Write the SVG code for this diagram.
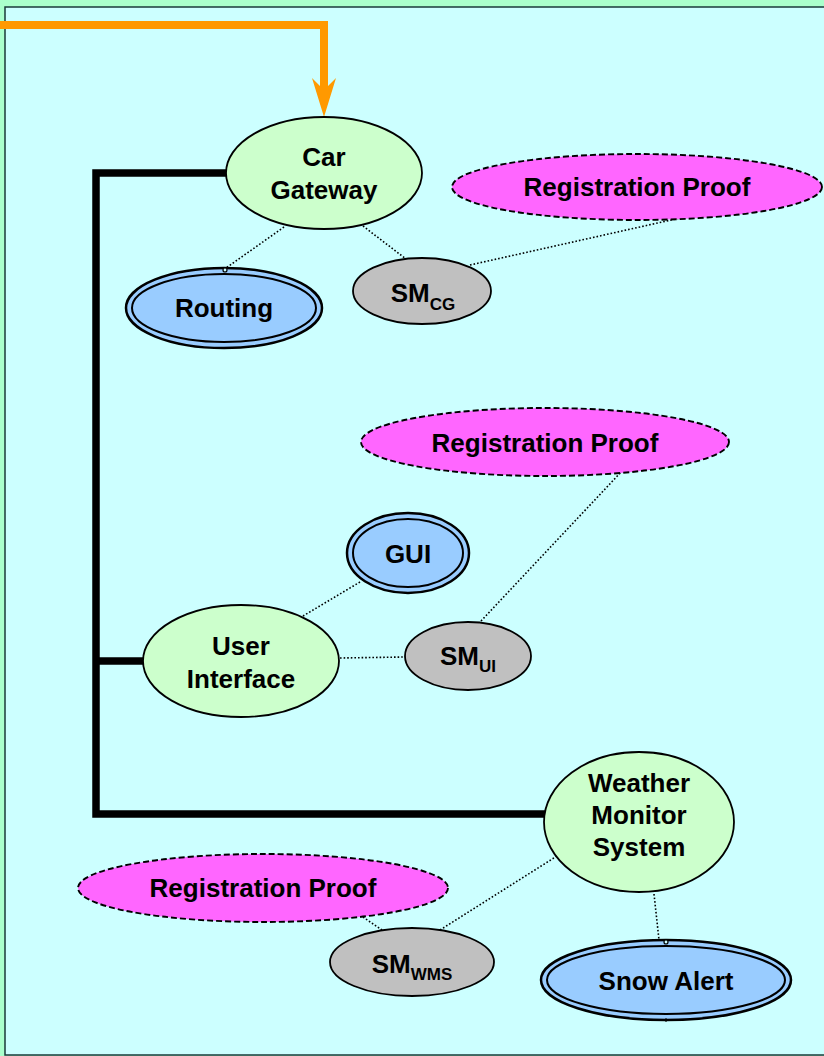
<svg xmlns="http://www.w3.org/2000/svg" width="824" height="1056" viewBox="0 0 824 1056">
  <style>
    text { font-family: "Liberation Sans", Arial, sans-serif; font-weight: bold; font-size: 26px; fill: #000; }
    .sub { font-size: 17px; }
    .comp { fill: #ccffcc; stroke: #000; stroke-width: 1.8; }
    .svc { fill: #99ccff; stroke: #000; stroke-width: 2.5; }
    .svc-in { fill: none; stroke: #000; stroke-width: 2; }
    .sm { fill: #c0c0c0; stroke: #000; stroke-width: 1.8; }
    .proof { fill: #ff66ff; stroke: #000; stroke-width: 1.9; stroke-dasharray: 6 3; }
    .dot { fill: none; stroke: #000; stroke-width: 1.6; stroke-dasharray: 1.6 2; }
    .bus { fill: none; stroke: #000; stroke-width: 7.5; stroke-linejoin: miter; }
    .pin { fill: #ccffff; stroke: #000; stroke-width: 1.2; }
  </style>

  <!-- page background and frame -->
  <rect x="0" y="0" width="824" height="1056" fill="#aaffcc"/>
  <rect x="5" y="7" width="830" height="1048" fill="#ccffff" stroke="#1a3a3a" stroke-width="1.5"/>

  <!-- connectors -->
  <g id="connectors">
    <!-- incoming request -->
    <polyline points="0,25 324,25 324,92" fill="none" stroke="#ff9900" stroke-width="8" stroke-linejoin="miter"/>
    <path d="M324,117 L312,78 L324,90 L336,78 Z" fill="#ff9900"/>
    <!-- bus linking components -->
    <polyline class="bus" points="227,173 96,173 96,814 545,814"/>
    <line class="bus" x1="96" y1="661" x2="144" y2="661"/>
    <!-- dotted associations -->
    <line class="dot" x1="284" y1="227" x2="226" y2="268"/>
    <line class="dot" x1="363" y1="226" x2="406" y2="259"/>
    <line class="dot" x1="470" y1="265" x2="680" y2="218"/>
    <line class="dot" x1="360" y1="582" x2="303" y2="616"/>
    <line class="dot" x1="340" y1="658" x2="405" y2="657"/>
    <line class="dot" x1="481" y1="621" x2="622" y2="471"/>
    <line class="dot" x1="360" y1="915" x2="382" y2="930"/>
    <line class="dot" x1="440" y1="930" x2="557" y2="856"/>
    <line class="dot" x1="654" y1="894" x2="659" y2="940"/>
  </g>

  <g id="car-gateway">
    <ellipse class="comp" cx="324" cy="173" rx="98" ry="56"/>
    <text x="324" y="166" text-anchor="middle">Car</text>
    <text x="324" y="199" text-anchor="middle">Gateway</text>
  </g>

  <g id="routing">
    <ellipse class="svc" cx="224" cy="308" rx="98" ry="40"/>
    <ellipse class="svc-in" cx="224" cy="308" rx="92" ry="34"/>
    <circle class="pin" cx="225" cy="270" r="2"/>
    <text x="224" y="317" text-anchor="middle">Routing</text>
  </g>

  <g id="sm-cg">
    <ellipse class="sm" cx="422" cy="291" rx="69" ry="33"/>
    <text x="423" y="302" text-anchor="middle">SM<tspan class="sub" dy="8">CG</tspan></text>
  </g>

  <g id="proof-cg">
    <ellipse class="proof" cx="637" cy="187" rx="185" ry="33"/>
    <text x="637" y="196" text-anchor="middle">Registration Proof</text>
  </g>

  <g id="proof-ui">
    <ellipse class="proof" cx="545" cy="442" rx="184" ry="34"/>
    <text x="545" y="452" text-anchor="middle">Registration Proof</text>
  </g>

  <g id="gui">
    <ellipse class="svc" cx="408" cy="553" rx="61" ry="40"/>
    <ellipse class="svc-in" cx="408" cy="553" rx="55" ry="34"/>
    <text x="408" y="563" text-anchor="middle">GUI</text>
  </g>

  <g id="user-interface">
    <ellipse class="comp" cx="241" cy="661" rx="98" ry="56"/>
    <text x="241" y="655" text-anchor="middle">User</text>
    <text x="241" y="688" text-anchor="middle">Interface</text>
  </g>

  <g id="sm-ui">
    <ellipse class="sm" cx="468" cy="656" rx="63" ry="34"/>
    <text x="468" y="665" text-anchor="middle">SM<tspan class="sub" dy="7">UI</tspan></text>
  </g>

  <g id="weather-monitor-system">
    <ellipse class="comp" cx="639" cy="822" rx="95" ry="70"/>
    <text x="639" y="792" text-anchor="middle">Weather</text>
    <text x="639" y="824" text-anchor="middle">Monitor</text>
    <text x="639" y="856" text-anchor="middle">System</text>
  </g>

  <g id="proof-wms">
    <ellipse class="proof" cx="263" cy="888" rx="185" ry="34"/>
    <text x="263" y="897" text-anchor="middle">Registration Proof</text>
  </g>

  <g id="sm-wms">
    <ellipse class="sm" cx="412" cy="962" rx="82" ry="34"/>
    <text x="412" y="973" text-anchor="middle">SM<tspan class="sub" dy="7">WMS</tspan></text>
  </g>

  <g id="snow-alert">
    <ellipse class="svc" cx="666" cy="980" rx="125" ry="40"/>
    <ellipse class="svc-in" cx="666" cy="980" rx="119" ry="34"/>
    <circle class="pin" cx="666" cy="942" r="2"/>
    <line x1="666" y1="1018" x2="666" y2="1022" stroke="#000" stroke-width="1"/>
    <text x="666" y="990" text-anchor="middle">Snow Alert</text>
  </g>
</svg>
